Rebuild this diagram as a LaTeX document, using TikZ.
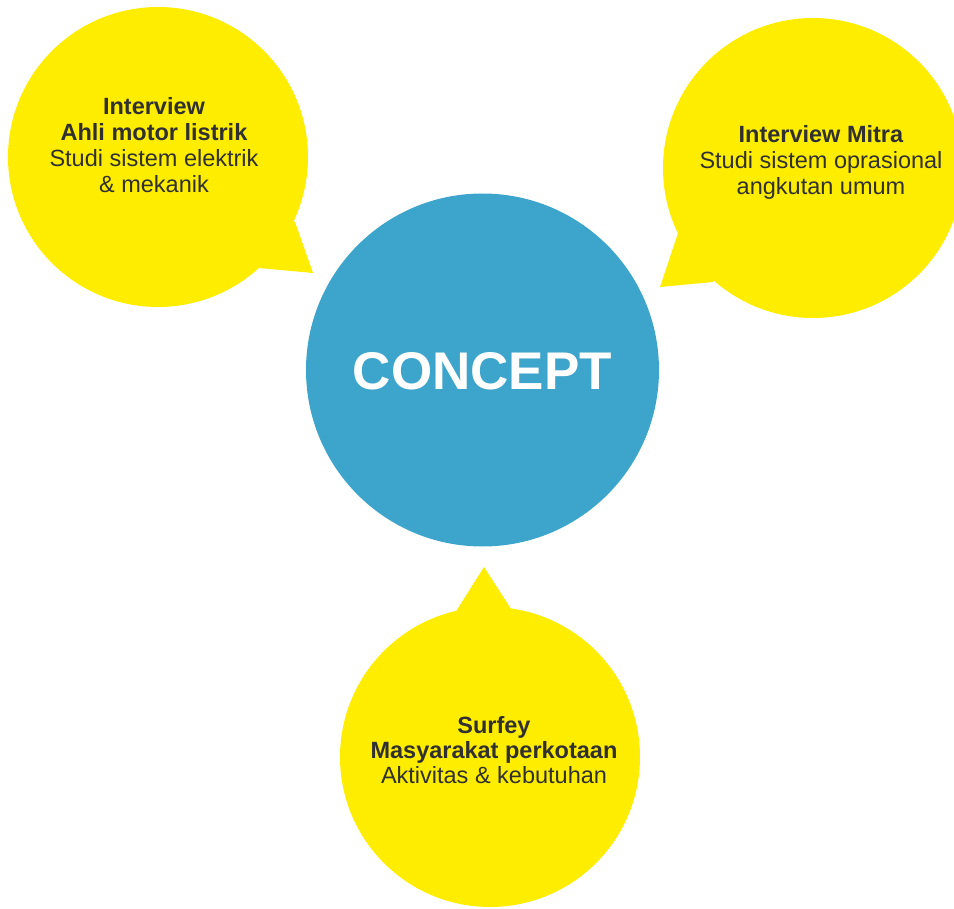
\documentclass[tikz,border=0pt]{standalone}
\usepackage{fontspec}
\setmainfont{Liberation Sans}
\definecolor{bubblefill}{HTML}{FFED00}
\definecolor{corefill}{HTML}{3DA5CB}
\definecolor{ink}{HTML}{303030}
\begin{document}
\begin{tikzpicture}[x=1pt,y=-1pt,
  bubble/.style={circle, fill=bubblefill, minimum size=300pt, inner sep=0pt},
  core/.style={circle, fill=corefill, minimum size=353pt, inner sep=0pt},
  tail/.style={fill=bubblefill},
  note/.style={text=ink, align=center, inner sep=0pt, font=\fontsize{23.5}{26}\selectfont},
]
\useasboundingbox (0,0) rectangle (954,909);
\clip (0,0) rectangle (954,909);

% speech bubbles around the central idea
\node[bubble] (left)   at (158,157) {};
\node[bubble] (right)  at (813,168) {};
\node[bubble] (bottom) at (490,757) {};

% bubble tails pointing at the centre
\coordinate (lefttip)   at (313,273);
\coordinate (righttip)  at (660,287);
\coordinate (bottomtip) at (484,567);
\fill[tail] (lefttip) -- (295,222) -- (left.center) -- (259,268) -- cycle;
\fill[tail] (righttip) -- (678,233) -- (right.center) -- (713,282) -- cycle;
\fill[tail] (bottomtip) -- (455,613) -- (bottom.center) -- (513,612) -- cycle;

% central circle
\node[core] (concept) at (482.5,370) {};
\node[text=white, inner sep=0pt, font=\fontsize{53}{60}\selectfont\bfseries] (conceptlabel) at (482.5,371) {CONCEPT};

% bubble texts
\node[note] (lefttext) at (154,145.5)
  {\textbf{Interview}\\\textbf{Ahli motor listrik}\\Studi sistem elektrik\\\& mekanik};
\node[note] (righttext) at (821,162.5)
  {\textbf{Interview Mitra}\\Studi sistem oprasional\\angkutan umum};
\node[note, font=\fontsize{23.5}{25}\selectfont] (bottomtext) at (494,750)
  {\textbf{Surfey}\\\textbf{Masyarakat perkotaan}\\Aktivitas \& kebutuhan};
\end{tikzpicture}
\end{document}
